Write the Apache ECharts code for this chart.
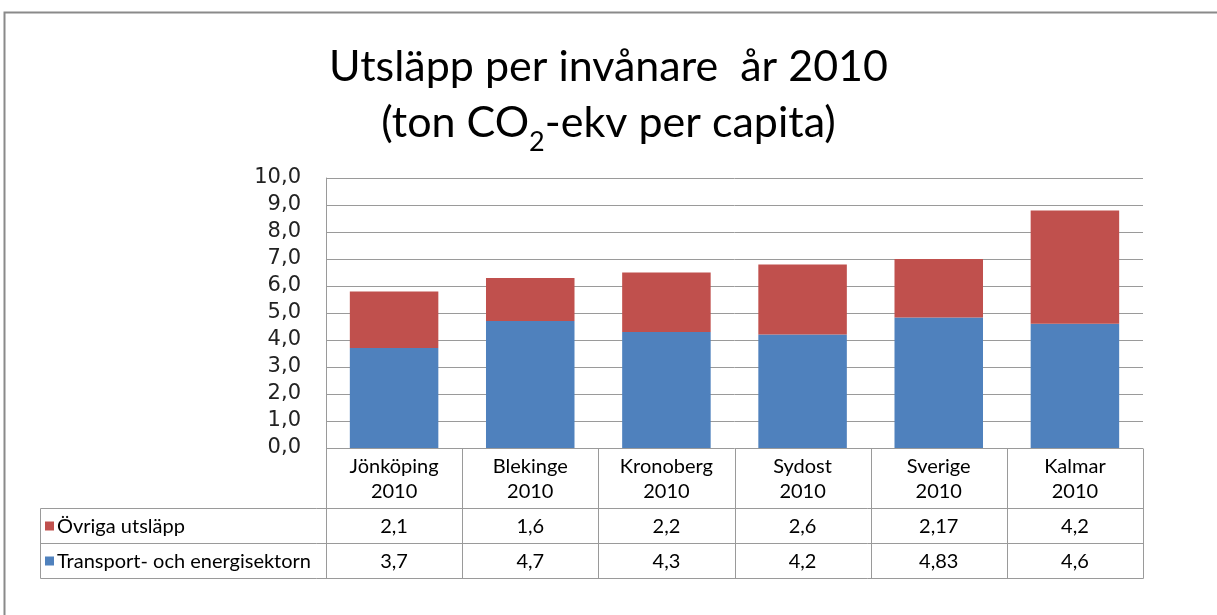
<!DOCTYPE html>
<html>
<head>
<meta charset="utf-8">
<script src="https://cdn.jsdelivr.net/npm/echarts@6/dist/echarts.min.js"></script>
<style>
  html, body { margin: 0; padding: 0; background: #fff; }
  #chart { width: 1217px; height: 615px; }
</style>
</head>
<body>
<div id="chart"></div>
<script>
// data
const categories = ['Jönköping 2010', 'Blekinge 2010', 'Kronoberg 2010', 'Sydost 2010', 'Sverige 2010', 'Kalmar 2010']
const ovrigaUtslapp = [2.1, 1.6, 2.2, 2.6, 2.17, 4.2]
const transportEnergi = [3.7, 4.7, 4.3, 4.2, 4.83, 4.6]
const seriesNames = ['Övriga utsläpp', 'Transport- och energisektorn']
const yMin = 0
const yMax = 10
const yStep = 1

const RED = '#C0504D'
const BLUE = '#4F81BD'
const LINE = '#9a9a9a'
const tableFont = '20px Lato'

const grid = { left: 326, top: 178, right: 74, bottom: 167 }

const fmt = (v) => String(v).replace('.', ',')

const chart = echarts.init(document.getElementById('chart'))

chart.setOption({
  animation: false,
  title: {
    left: 'center',
    top: 34,
    text: '{a|Utsläpp per invånare  år 2010}\n{a|(ton CO}{s|2}{a|-ekv per capita)}',
    textStyle: {
      fontWeight: 'normal',
      rich: {
        a: { fontFamily: 'Lato', fontWeight: 'normal', fontSize: 43, color: '#000', lineHeight: 56 },
        s: {
          fontFamily: 'Lato',
          fontWeight: 'normal',
          fontSize: 27,
          color: '#000',
          lineHeight: 56,
          verticalAlign: 'bottom',
          padding: [0, 0, -5, 0],
        },
      },
    },
  },
  grid,
  xAxis: {
    type: 'category',
    data: categories,
    axisLabel: { show: false },
    axisTick: { show: false },
    axisLine: { show: false },
  },
  yAxis: {
    type: 'value',
    min: yMin,
    max: yMax,
    interval: yStep,
    axisLine: { show: true, lineStyle: { color: LINE } },
    axisTick: { show: false },
    splitLine: { lineStyle: { color: LINE } },
    axisLabel: {
      margin: 25,
      fontFamily: 'DejaVu Sans',
      fontSize: 21,
      color: '#222',
      formatter: (v) => v.toFixed(1).replace('.', ','),
    },
  },
  series: [
    {
      name: seriesNames[1],
      type: 'bar',
      stack: 'total',
      barWidth: '65%',
      data: transportEnergi,
      itemStyle: { color: BLUE },
    },
    {
      name: seriesNames[0],
      type: 'bar',
      stack: 'total',
      barWidth: '65%',
      data: ovrigaUtslapp,
      itemStyle: { color: RED },
    },
  ],
})

// data table under the plot, aligned with the category axis
const buildTable = () => {
  const x0 = chart.convertToPixel({ xAxisIndex: 0 }, categories[0])
  const x1 = chart.convertToPixel({ xAxisIndex: 0 }, categories[1])
  const cellW = x1 - x0
  const left = x0 - cellW / 2
  const right = left + cellW * categories.length
  const top = chart.convertToPixel({ yAxisIndex: 0 }, yMin)
  const tableLeft = 40
  const rowYs = [top + 60, top + 95, top + 130]
  const els = []
  const line = (xa, ya, xb, yb) =>
    els.push({
      type: 'line',
      shape: { x1: Math.round(xa) + 0.5, y1: Math.round(ya) + 0.5, x2: Math.round(xb) + 0.5, y2: Math.round(yb) + 0.5 },
      style: { stroke: LINE, lineWidth: 1 },
    })
  const text = (t, x, y, align) =>
    els.push({
      type: 'text',
      x,
      y,
      style: {
        text: t,
        font: tableFont,
        fill: '#000',
        align,
        textAlign: align,
        verticalAlign: 'middle',
        textVerticalAlign: 'middle',
        lineHeight: 25,
      },
    })

  for (let i = 0; i <= categories.length; i++) {
    const x = left + cellW * i
    line(x, top, x, rowYs[2])
  }
  line(tableLeft, rowYs[0], tableLeft, rowYs[2])
  rowYs.forEach((y) => line(tableLeft, y, right, y))

  categories.forEach((c, i) => {
    const cx = left + cellW * (i + 0.5)
    text(c.replace(' ', '\n'), cx, (top + rowYs[0]) / 2 + 1, 'center')
    text(fmt(ovrigaUtslapp[i]), cx, (rowYs[0] + rowYs[1]) / 2 + 1, 'center')
    text(fmt(transportEnergi[i]), cx, (rowYs[1] + rowYs[2]) / 2 + 1, 'center')
  })

  const rows = [
    [seriesNames[0], RED, (rowYs[0] + rowYs[1]) / 2],
    [seriesNames[1], BLUE, (rowYs[1] + rowYs[2]) / 2],
  ]
  rows.forEach(([name, color, cy]) => {
    els.push({ type: 'rect', shape: { x: 45, y: cy - 4, width: 9, height: 9 }, style: { fill: color } })
    text(name, 57, cy + 1, 'left')
  })

  // outer chart frame
  els.push({
    type: 'rect',
    shape: { x: 4.5, y: 12.5, width: 1260, height: 650 },
    style: { fill: 'none', stroke: '#8a8a8a', lineWidth: 2 },
  })

  chart.setOption({ graphic: els })
}

buildTable()
</script>
</body>
</html>
